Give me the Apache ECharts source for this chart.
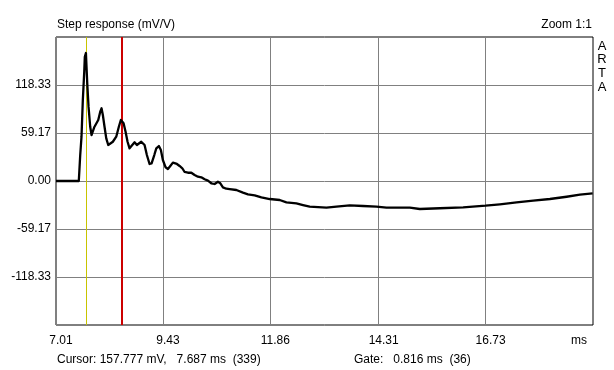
<!DOCTYPE html>
<html>
<head>
<meta charset="utf-8">
<script src="https://cdn.jsdelivr.net/npm/echarts@6/dist/echarts.min.js"></script>
<style>
html,body{margin:0;padding:0;background:#fff;}
#chart{width:614px;height:370px;}
</style>
</head>
<body>
<div id="chart"></div>
<script>
// ---- data ----
const timeMs = [7.010, 7.526, 7.558, 7.587, 7.617, 7.649, 7.662, 7.687, 7.717, 7.746, 7.784, 7.814, 7.843, 7.875, 7.920, 7.966, 8.011, 8.040, 8.070, 8.108, 8.147, 8.192, 8.237, 8.296, 8.373, 8.432, 8.477, 8.509, 8.539, 8.584, 8.629, 8.674, 8.736, 8.788, 8.840, 8.885, 8.939, 8.976, 9.014, 9.066, 9.127, 9.173, 9.234, 9.279, 9.338, 9.383, 9.428, 9.490, 9.542, 9.596, 9.655, 9.700, 9.746, 9.807, 9.868, 9.920, 9.995, 10.072, 10.146, 10.221, 10.298, 10.373, 10.448, 10.524, 10.599, 10.674, 10.728, 10.787, 10.864, 10.939, 11.091, 11.240, 11.353, 11.505, 11.657, 11.845, 12.071, 12.223, 12.449, 12.599, 12.750, 13.129, 13.355, 13.656, 13.957, 14.261, 14.487, 15.015, 15.241, 15.694, 16.222, 16.729, 17.053, 17.431, 17.807, 18.185, 18.563, 18.864, 19.152];
const stepMv = [0, 0, 32.0, 54.6, 99.8, 134.7, 153.2, 157.8, 120.4, 91.6, 66.9, 56.7, 56.7, 66.2, 66.9, 75.2, 85.4, 89.6, 81.4, 66.9, 52.6, 44.4, 46.5, 48.4, 54.6, 66.9, 75.2, 76.1, 71.1, 60.8, 48.4, 40.3, 44.4, 47.7, 44.4, 42.3, 48.4, 50.5, 44.4, 32.0, 21.0, 21.8, 32.0, 40.3, 43.1, 38.2, 25.9, 16.9, 14.8, 18.5, 22.6, 23.8, 21.0, 18.5, 15.7, 11.1, 10.2, 10.2, 7.4, 5.3, 4.6, 2.1, 0.4, -2.8, -3.7, -0.9, -2.8, -7.8, -9.5, -9.9, -11.1, -14.4, -16.4, -17.6, -20.1, -22.2, -23.4, -26.3, -27.5, -29.6, -31.7, -32.9, -31.7, -30.0, -30.8, -31.7, -32.9, -32.9, -34.5, -33.6, -32.4, -30.4, -28.7, -26.3, -24.3, -22.2, -19.4, -16.9, -15.2];
const xTickValues = [7.01, 9.43, 11.86, 14.31, 16.73];
const yTickValues = [-118.33, -59.17, 0, 59.17, 118.33];
const xMin = 7.01, xMax = 19.16;
const yMin = -177.5, yMax = 177.5;
const cursorMs = 7.687;
const gateEndMs = 8.503;
const titleText = 'Step response (mV/V)';
const zoomText = 'Zoom 1:1';
const brandLetters = ['A', 'R', 'T', 'A'];
const unitText = 'ms';
const cursorText = 'Cursor: 157.777 mV,   7.687 ms  (339)';
const gateText = 'Gate:   0.816 ms  (36)';

const FONT = '"Liberation Sans", Arial, sans-serif';
const chart = echarts.init(document.getElementById('chart'), null, {renderer: 'canvas'});

const seriesData = timeMs.map((t, i) => [t, stepMv[i]]);

const graphics = [
  {type: 'text', left: 57, top: 19, style: {text: titleText, font: '12px ' + FONT, fill: '#000'}},
  {type: 'text', right: 22, top: 19, style: {text: zoomText, font: '12px ' + FONT, fill: '#000'}},
  {type: 'text', left: 57, top: 354, style: {text: cursorText, font: '12px ' + FONT, fill: '#000'}},
  {type: 'text', left: 354, top: 354, style: {text: gateText, font: '12px ' + FONT, fill: '#000'}},
  {type: 'text', x: 579, y: 341, style: {text: unitText, font: '12px ' + FONT, fill: '#000', align: 'center', verticalAlign: 'middle'}}
];
brandLetters.forEach((ch, i) => {
  graphics.push({type: 'text', x: 602, y: 46 + i * 13.7, style: {text: ch, font: '13px ' + FONT, fill: '#000', align: 'center', verticalAlign: 'middle'}});
});

chart.setOption({
  animation: false,
  backgroundColor: '#fff',
  grid: {left: 56, top: 37, right: 21, bottom: 45, show: true, borderColor: '#000', borderWidth: 1, backgroundColor: 'transparent'},
  xAxis: {
    type: 'value', min: xMin, max: xMax,
    axisLine: {show: false},
    axisTick: {show: false, customValues: xTickValues},
    axisLabel: {
      customValues: xTickValues,
      formatter: v => v.toFixed(2),
      color: '#000', fontFamily: FONT, fontSize: 12, margin: 10,
      padding: [0, 0, 0, 10]
    },
    splitLine: {show: true, lineStyle: {color: '#808080', width: 1}}
  },
  yAxis: {
    type: 'value', min: yMin, max: yMax,
    axisLine: {show: false},
    axisTick: {show: false, customValues: yTickValues},
    axisLabel: {
      customValues: yTickValues,
      formatter: v => v.toFixed(2),
      color: '#000', fontFamily: FONT, fontSize: 12, margin: 5
    },
    splitLine: {show: true, lineStyle: {color: '#808080', width: 1}}
  },
  graphic: graphics,
  series: [
    {
      type: 'line', data: [], z: 1, silent: true,
      markLine: {
        silent: true, symbol: 'none', animation: false,
        label: {show: false},
        data: [
          {xAxis: cursorMs, lineStyle: {color: '#c8c400', width: 1, type: 'solid'}},
          {xAxis: gateEndMs, lineStyle: {color: '#cc0000', width: 2, type: 'solid'}}
        ]
      }
    },
    {
      type: 'line', data: seriesData, z: 5, showSymbol: false, symbol: 'none',
      lineStyle: {color: '#000', width: 2.3, join: 'round'}
    }
  ]
});
</script>
</body>
</html>
